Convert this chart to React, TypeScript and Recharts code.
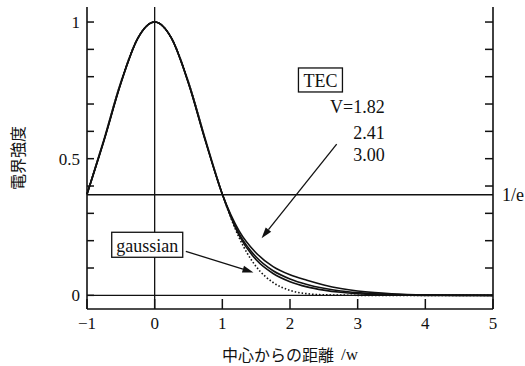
import { LineChart, Line, XAxis, YAxis, ReferenceLine, ReferenceDot } from 'recharts';

// distance from centre (/w)
const xs = [-1, -0.75, -0.5, -0.25, 0, 0.25, 0.5, 0.75, 1, 1.25, 1.5, 1.75, 2, 2.25, 2.5, 2.75, 3, 3.25, 3.5, 4, 4.5, 5];
const gaussian = [0.37, 0.57, 0.78, 0.94, 1, 0.94, 0.78, 0.57, 0.37, 0.21, 0.105, 0.047, 0.018, 0.006, 0.002, 0.001, 0, 0, 0, 0, 0, 0];
const tec182 = [0.37, 0.565, 0.775, 0.94, 1, 0.94, 0.775, 0.565, 0.37, 0.235, 0.155, 0.105, 0.075, 0.055, 0.038, 0.025, 0.016, 0.01, 0.006, 0.002, 0.001, 0];
const tec241 = [0.37, 0.567, 0.777, 0.94, 1, 0.94, 0.777, 0.567, 0.37, 0.225, 0.14, 0.09, 0.06, 0.04, 0.026, 0.016, 0.01, 0.006, 0.003, 0.001, 0, 0];
const tec300 = [0.37, 0.568, 0.778, 0.94, 1, 0.94, 0.778, 0.568, 0.37, 0.218, 0.13, 0.08, 0.05, 0.031, 0.019, 0.011, 0.006, 0.003, 0.002, 0, 0, 0];

const xTicks = [-1, 0, 1, 2, 3, 4, 5];
const yTicks = [0, 0.1, 0.2, 0.3, 0.4, 0.5, 0.6, 0.7, 0.8, 0.9, 1];
const yLabels: Record<string, string> = { '0': '0', '0.5': '0.5', '1': '1' };
const voltages = ['V=1.82', '2.41', '3.00'];
const vY = [0.689, 0.593, 0.513];

const data = xs.map((x, i) => ({ x, g: gaussian[i], a: tec182[i], b: tec241[i], c: tec300[i] }));

const SERIF = '"Liberation Serif", "Times New Roman", serif';
const JP = '"Noto Sans CJK JP", sans-serif';
const INK = '#111';
const tickLine = { stroke: INK, strokeWidth: 1.5 };
const axisLine = { stroke: INK, strokeWidth: 1.6 };
const tickFont = { fill: INK, fontSize: 17, fontFamily: SERIF };

function Arrow({ x1, y1, x2, y2 }: any) {
  const ang = Math.atan2(y2 - y1, x2 - x1);
  const L = 11;
  const W = 3.5;
  const bx = x2 - L * Math.cos(ang);
  const by = y2 - L * Math.sin(ang);
  const px = -Math.sin(ang) * W;
  const py = Math.cos(ang) * W;
  return (
    <g>
      <line x1={x1} y1={y1} x2={bx} y2={by} stroke={INK} strokeWidth={1.3} />
      <polygon points={`${x2},${y2} ${bx + px},${by + py} ${bx - px},${by - py}`} fill={INK} />
    </g>
  );
}

function boxedLabel(text: string, w: number, h: number) {
  return ({ cx, cy }: any) => (
    <g>
      <rect x={cx - w / 2} y={cy - h / 2} width={w} height={h} fill="#fff" stroke={INK} strokeWidth={1.3} />
      <text x={cx} y={cy + 1} textAnchor="middle" dominantBaseline="central" fontSize={18} fontFamily={SERIF} fill={INK}>
        {text}
      </text>
    </g>
  );
}

function rightLabel(text: string) {
  return ({ cx, cy }: any) => (
    <text x={cx} y={cy} textAnchor="end" dominantBaseline="central" fontSize={18} fontFamily={SERIF} fill={INK}>
      {text}
    </text>
  );
}

export default function App() {
  return (
    <div style={{ position: 'absolute', left: 0, top: 0, width: 525, height: 366, background: '#fff' }}>
      <LineChart width={525} height={366} data={data} margin={{ top: 7, right: 0, bottom: 0, left: 0 }}>
        <XAxis
          dataKey="x"
          type="number"
          domain={[-1, 5]}
          ticks={xTicks}
          interval={0}
          height={57}
          tickSize={-10}
          tickMargin={18}
          tickLine={tickLine}
          axisLine={axisLine}
          tick={tickFont}
          tickFormatter={(v: number) => (v < 0 ? '\u2212' + Math.abs(v) : String(v))}
          label={{
            content: ({ viewBox }: any) => (
              <text x={viewBox.x + viewBox.width / 2} y={viewBox.y + 45} textAnchor="middle" dominantBaseline="central" fontSize={16} fill={INK}>
                <tspan fontFamily={JP}>中心からの距離</tspan>
                <tspan fontFamily={SERIF} fontSize={17} dx={7}>/w</tspan>
              </text>
            ),
          }}
        />
        <XAxis
          xAxisId="top"
          orientation="top"
          dataKey="x"
          type="number"
          domain={[-1, 5]}
          ticks={xTicks}
          interval={0}
          height={0}
          tickSize={-11}
          tickLine={tickLine}
          axisLine={axisLine}
          tickFormatter={() => ''}
        />
        <YAxis
          type="number"
          domain={[-0.05, 1.055]}
          ticks={yTicks}
          interval={0}
          width={87}
          tickSize={-7}
          tickMargin={14}
          tickLine={tickLine}
          axisLine={axisLine}
          tick={tickFont}
          tickFormatter={(v: number) => yLabels[String(v)] ?? ''}
          label={{
            content: ({ viewBox }: any) => {
              const cx = 17;
              const cy = viewBox.y + viewBox.height / 2;
              return (
                <text x={cx} y={cy} transform={`rotate(-90, ${cx}, ${cy})`} textAnchor="middle" dominantBaseline="central" fontSize={16} fontFamily={JP} fill={INK}>
                  電界強度
                </text>
              );
            },
          }}
        />
        <YAxis
          yAxisId="right"
          orientation="right"
          type="number"
          domain={[-0.05, 1.055]}
          ticks={yTicks.slice(1)}
          interval={0}
          width={32}
          tickSize={-8}
          tickLine={tickLine}
          axisLine={axisLine}
          tickFormatter={() => ''}
        />

        <ReferenceLine y={0} stroke={INK} strokeWidth={1.3} />
        <ReferenceLine
          y={0.368}
          stroke={INK}
          strokeWidth={1.3}
          label={{ value: '1/e', position: 'right', offset: 9, fill: INK, fontSize: 18, fontFamily: SERIF }}
        />
        <ReferenceLine x={0} stroke={INK} strokeWidth={1.3} />

        {/* invisible copy so the top and right frame axes get a domain and draw their ticks */}
        <Line xAxisId="top" yAxisId="right" type="monotone" dataKey="a" stroke="none" dot={false} activeDot={false} isAnimationActive={false} />

        <Line type="monotone" dataKey="g" stroke={INK} strokeWidth={1.6} strokeDasharray="1.5 2" dot={false} activeDot={false} isAnimationActive={false} />
        <Line type="monotone" dataKey="a" stroke={INK} strokeWidth={1.6} dot={false} activeDot={false} isAnimationActive={false} />
        <Line type="monotone" dataKey="b" stroke={INK} strokeWidth={1.6} dot={false} activeDot={false} isAnimationActive={false} />
        <Line type="monotone" dataKey="c" stroke={INK} strokeWidth={1.6} dot={false} activeDot={false} isAnimationActive={false} />

        <ReferenceLine segment={[{ x: 2.69, y: 0.553 }, { x: 1.58, y: 0.209 }]} shape={<Arrow />} />
        <ReferenceLine segment={[{ x: 0.46, y: 0.161 }, { x: 1.46, y: 0.084 }]} shape={<Arrow />} />

        <ReferenceDot x={2.45} y={0.788} r={0} shape={boxedLabel('TEC', 44, 24)} />
        <ReferenceDot x={-0.11} y={0.185} r={0} shape={boxedLabel('gaussian', 71, 25)} />
        {voltages.map((v, i) => (
          <ReferenceDot key={v} x={3.4} y={vY[i]} r={0} shape={rightLabel(v)} />
        ))}
      </LineChart>
    </div>
  );
}
